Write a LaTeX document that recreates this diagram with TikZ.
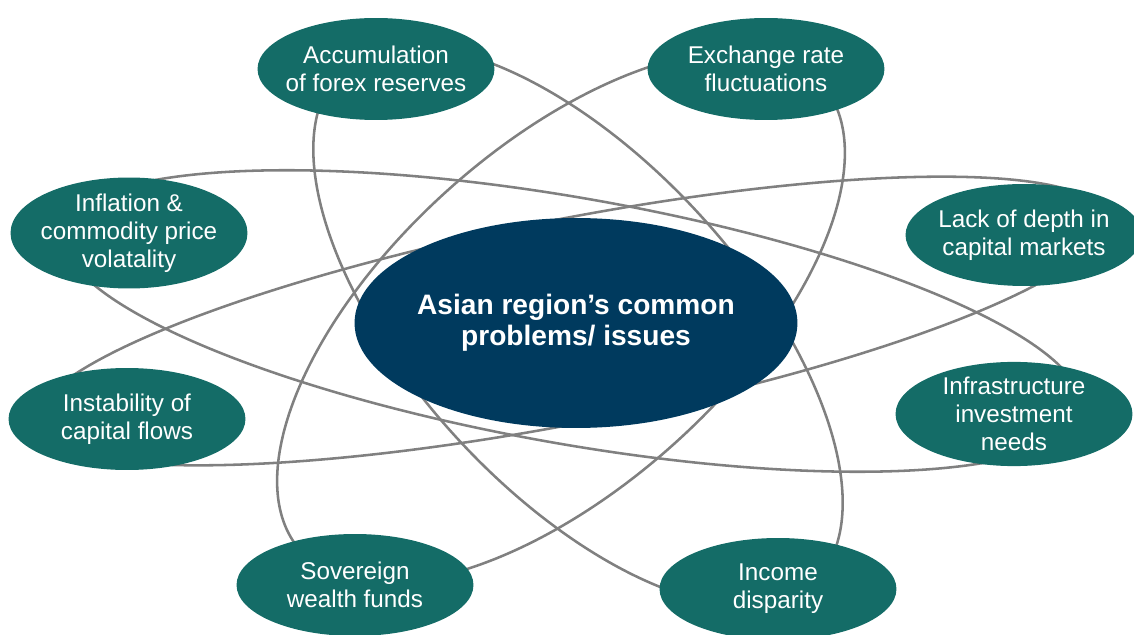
\documentclass[tikz,border=0pt]{standalone}
\usepackage{fontspec}
\setmainfont{Liberation Sans}
\usetikzlibrary{shapes.geometric}
\definecolor{issuegreen}{RGB}{20,108,103}
\definecolor{hubblue}{RGB}{0,58,94}
\definecolor{orbitgray}{RGB}{128,128,128}

\begin{document}
\begin{tikzpicture}[x=0.02cm,y=-0.02cm,
  orbit/.style={draw=orbitgray,line width=1.45pt},
  % negative xsep keeps the ellipses at their fixed size
  issue/.style={ellipse,fill=issuegreen,text=white,inner xsep=-1cm,inner ysep=0pt,align=center,
    minimum width=4.74cm,minimum height=2.04cm,font=\fontsize{13.8}{15.9}\selectfont},
  hub/.style={ellipse,fill=hubblue,text=white,inner xsep=-1cm,inner ysep=0pt,align=center,
    minimum width=8.86cm,minimum height=4.2cm,font=\bfseries\fontsize{16}{17.5}\selectfont}]
\clip (0,0) rectangle (1134,635);
% the four orbits behind the nodes
\draw[orbit,rotate around={-47.5:(578,326)}] (578,326) ellipse [x radius=6.96cm,y radius=3.3cm];
\draw[orbit,rotate around={42:(561,317)}] (561,317) ellipse [x radius=7cm,y radius=3.4cm];
\draw[orbit,rotate around={-10:(572,321)}] (572,321) ellipse [x radius=10.34cm,y radius=2.46cm];
\draw[orbit,rotate around={11:(570,321)}] (570,321) ellipse [x radius=10.9cm,y radius=2.04cm];
% centre
\node[hub] (hub) at (576,323) {Asian region’s common\\problems/ issues};
% issues around it
\node[issue] (acc) at (376,69) {Accumulation\\of forex reserves};
\node[issue] (exch) at (766,69) {Exchange rate\\fluctuations};
\node[issue] (infl) at (129,233) {Inflation \&\\commodity price\\volatality};
\node[issue] (lack) at (1024,235) {Lack of depth in\\capital markets};
\node[issue] (instab) at (127,419) {Instability of\\capital flows};
\node[issue] (infra) at (1014,414) {Infrastructure\\investment\\needs};
\node[issue] (sov) at (355,585) {Sovereign\\wealth funds};
\node[issue] (inc) at (778,589) {Income\\disparity};
\end{tikzpicture}
\end{document}
